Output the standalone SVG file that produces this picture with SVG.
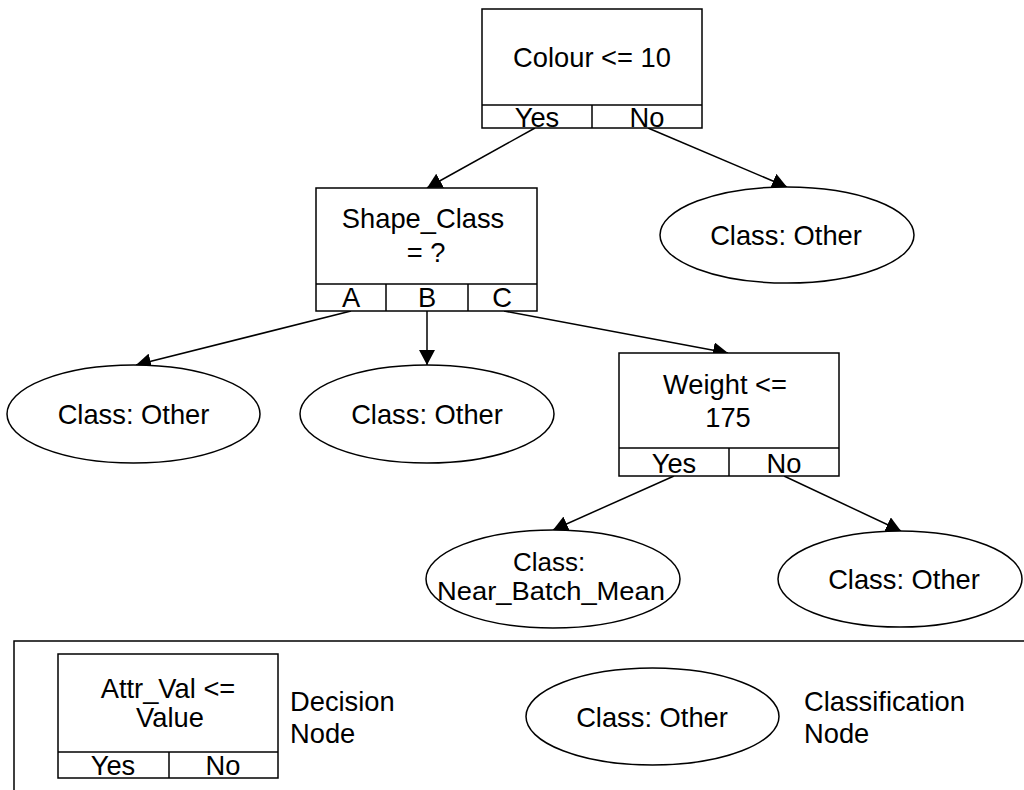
<svg xmlns="http://www.w3.org/2000/svg" width="1024" height="790" viewBox="0 0 1024 790">
<defs>
<style>
text{font-family:"Liberation Sans",Arial,sans-serif;font-size:27.3px;fill:#000;text-anchor:middle}
text.l{text-anchor:start}
text.s{font-size:26px}
.box{fill:#fff;stroke:#000;stroke-width:1.5}
.ln{stroke:#000;stroke-width:1.5;fill:none}
.edge{stroke:#000;stroke-width:1.5;fill:none;marker-end:url(#arr)}
</style>
<marker id="arr" markerUnits="userSpaceOnUse" markerWidth="16" markerHeight="16" refX="15" refY="8" orient="auto" viewBox="0 0 16 16">
<path d="M0,0 L15,8 L0,16 Z" fill="#000"/>
</marker>
</defs>
<rect width="1024" height="790" fill="#fff"/>

<g id="connectors">
<line class="edge" x1="535" y1="128" x2="427" y2="188"/>
<line class="edge" x1="648" y1="128" x2="787" y2="187"/>
<line class="edge" x1="351" y1="311" x2="136" y2="365"/>
<line class="edge" x1="427" y1="311" x2="427" y2="365"/>
<line class="edge" x1="504" y1="311" x2="728" y2="353"/>
<line class="edge" x1="674" y1="476" x2="553" y2="530"/>
<line class="edge" x1="784" y1="476" x2="901" y2="531"/>
</g>

<g id="node-colour">
<rect class="box" x="482" y="9" width="220" height="119"/>
<line class="ln" x1="482" y1="105" x2="702" y2="105"/>
<line class="ln" x1="592" y1="105" x2="592" y2="128"/>
<text x="592" y="67">Colour &lt;= 10</text>
<text x="537" y="127">Yes</text>
<text x="647" y="127">No</text>
</g>

<g id="node-shape">
<rect class="box" x="316" y="188" width="221" height="123"/>
<line class="ln" x1="316" y1="284" x2="537" y2="284"/>
<line class="ln" x1="386" y1="284" x2="386" y2="311"/>
<line class="ln" x1="468" y1="284" x2="468" y2="311"/>
<text x="423" y="228">Shape_Class</text>
<text x="426" y="262">= ?</text>
<text x="351" y="307">A</text>
<text x="427" y="307">B</text>
<text x="502" y="307">C</text>
</g>

<g id="node-other-1">
<ellipse class="box" cx="787" cy="235" rx="127" ry="48"/>
<text x="786" y="245">Class: Other</text>
</g>

<g id="node-other-a">
<ellipse class="box" cx="133.5" cy="414" rx="126.5" ry="49"/>
<text x="133.5" y="424">Class: Other</text>
</g>

<g id="node-other-b">
<ellipse class="box" cx="427" cy="414" rx="127" ry="49"/>
<text x="427" y="424">Class: Other</text>
</g>

<g id="node-weight">
<rect class="box" x="619" y="353" width="220" height="123"/>
<line class="ln" x1="619" y1="448" x2="839" y2="448"/>
<line class="ln" x1="729" y1="448" x2="729" y2="476"/>
<text x="725" y="394">Weight &lt;=</text>
<text x="728" y="427">175</text>
<text x="674" y="473">Yes</text>
<text x="784" y="473">No</text>
</g>

<g id="node-near">
<ellipse class="box" cx="553" cy="579" rx="127" ry="49"/>
<text class="s" x="549" y="571">Class:</text>
<text class="s" x="551" y="600" textLength="228" lengthAdjust="spacingAndGlyphs">Near_Batch_Mean</text>
</g>

<g id="node-other-2">
<ellipse class="box" cx="900" cy="579" rx="122" ry="48"/>
<text x="904" y="589">Class: Other</text>
</g>

<g id="legend">
<rect class="box" x="14" y="641" width="1020" height="160"/>
<rect class="box" x="58" y="654" width="220" height="124"/>
<line class="ln" x1="58" y1="752" x2="278" y2="752"/>
<line class="ln" x1="169" y1="752" x2="169" y2="778"/>
<text x="168" y="698">Attr_Val &lt;=</text>
<text x="170" y="727">Value</text>
<text x="113" y="775">Yes</text>
<text x="223" y="775">No</text>
<text class="l" x="290" y="711">Decision</text>
<text class="l" x="290" y="743">Node</text>
<ellipse class="box" cx="652.5" cy="716.5" rx="126.5" ry="48.5"/>
<text x="652" y="727">Class: Other</text>
<text class="l" x="804" y="711">Classification</text>
<text class="l" x="804" y="743">Node</text>
</g>
</svg>
